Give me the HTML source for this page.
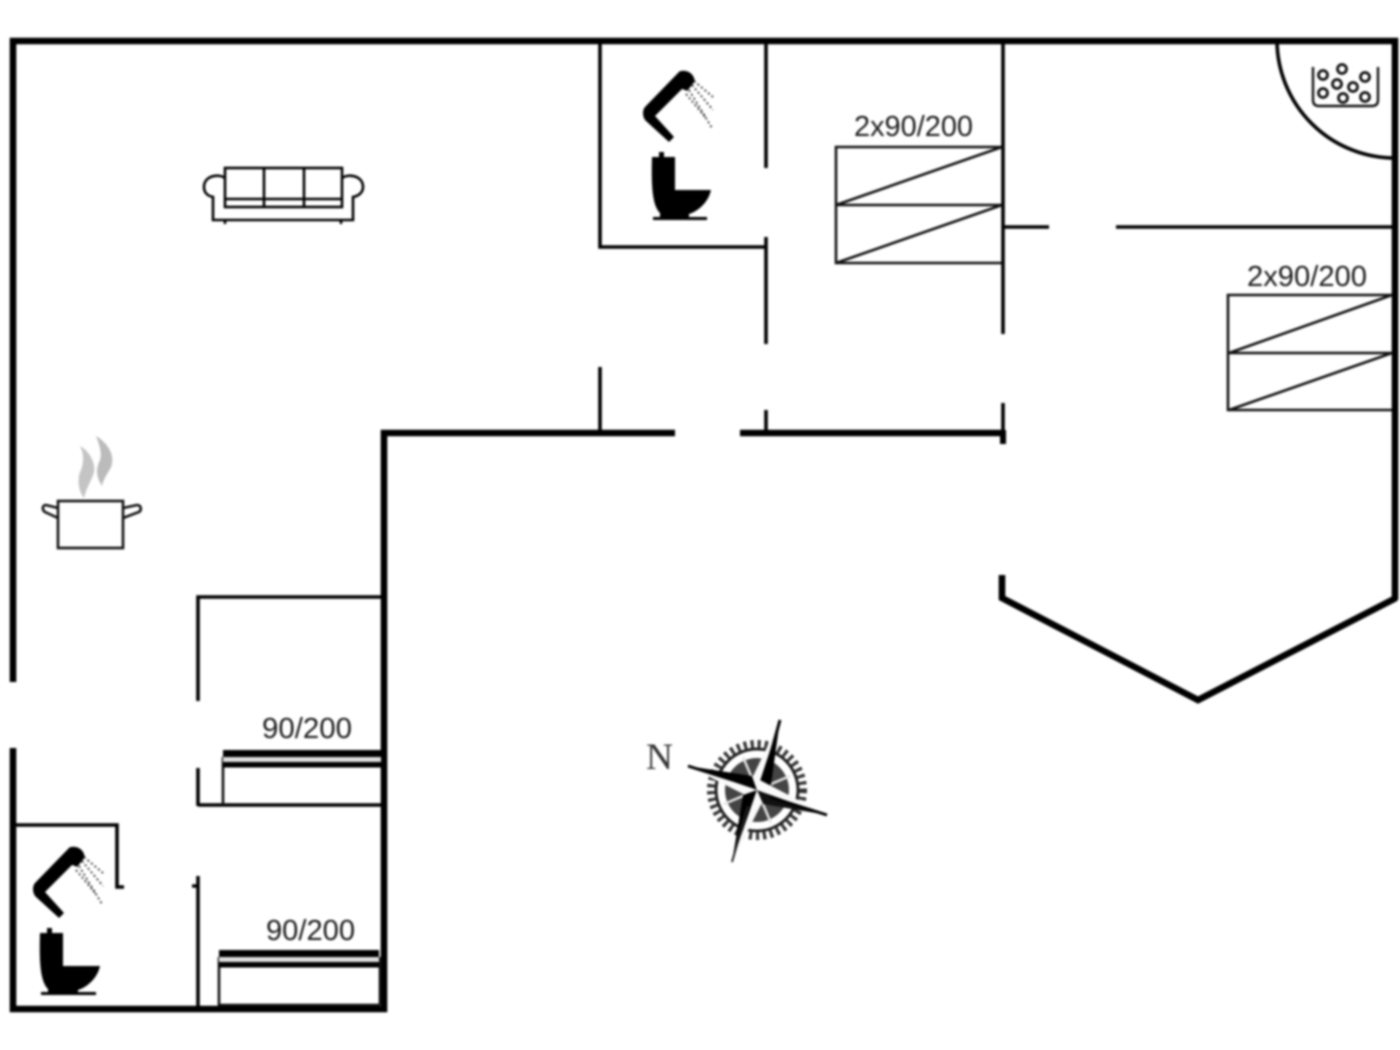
<!DOCTYPE html>
<html>
<head>
<meta charset="utf-8">
<style>
html,body{margin:0;padding:0;background:#fff;width:1400px;height:1050px;overflow:hidden}
svg{display:block;filter:blur(1px)}
text{font-family:"Liberation Sans",sans-serif;font-size:28.5px;fill:#1c1c1c}
</style>
</head>
<body>
<svg width="1400" height="1050" viewBox="0 0 1400 1050" xmlns="http://www.w3.org/2000/svg">
<rect width="1400" height="1050" fill="#fff"/>
<!-- thick walls -->
<g fill="none" stroke="#000" stroke-width="6.6">
<path d="M13 682V41H1395V600"/>
<path d="M13 748V1009H384V433H675"/>
<path d="M740 433H1003"/>
<path d="M1002 575V598L1198 700L1396 598" stroke-linejoin="miter"/>
</g>
<rect x="1000" y="430" width="6" height="14" fill="#000"/>
<!-- thin walls -->
<g fill="none" stroke="#000" stroke-width="3.6">
<path d="M600 41V247H766"/>
<path d="M766 41V168M766 237V344M766 410V433"/>
<path d="M600 367V433"/>
<path d="M1003 41V334M1003 403V433"/>
<path d="M1003 227H1049M1116 227H1395"/>
<path d="M198 701V597H384"/>
<path d="M198 768V806M198 805H384"/>
<path d="M198 876V1009M192 886H198"/>
<path d="M13 825H117V887H124"/>
<path d="M1277 41A118 118 0 0 0 1395 158"/>
</g>
<!-- beds -->
<g fill="none" stroke="#111" stroke-width="2.6">
<path d="M1002 147H836V263H1002M836 205H1002M836 205L1002 147M836 263L1002 205"/>
<path d="M1392 295H1228V410H1392M1229 353H1392M1229 353L1392 295M1229 410L1392 353"/>
<path d="M223 757V805"/>
<path d="M219 957V1005H380"/>
<path d="M380 957V1005"/>
</g>
<g fill="#000">
<rect x="223" y="750" width="158" height="7"/>
<rect x="223" y="762" width="158" height="5.5"/>
<rect x="219" y="950" width="160" height="7"/>
<rect x="219" y="962" width="160" height="5.5"/>
</g>
<rect x="223" y="757" width="158" height="5" fill="#ddd"/>
<rect x="219" y="957" width="160" height="5" fill="#ddd"/>
<!-- labels -->
<text x="854" y="136" textLength="119" lengthAdjust="spacingAndGlyphs">2x90/200</text>
<text x="1247" y="286" textLength="120" lengthAdjust="spacingAndGlyphs">2x90/200</text>
<text x="262" y="738" textLength="90" lengthAdjust="spacingAndGlyphs">90/200</text>
<text x="266" y="940" textLength="89" lengthAdjust="spacingAndGlyphs">90/200</text>
<text x="646" y="769" textLength="27" lengthAdjust="spacingAndGlyphs" style="font-family:'Liberation Serif',serif;font-size:37px;fill:#333">N</text>
<!-- sofa -->
<g fill="none" stroke="#000" stroke-width="2.6">
<rect x="225" y="168" width="117" height="39"/>
<path d="M264 168V207M304 168V207M225 199H342"/>
<path d="M225 178C218 173 204 176 204 187C204 193 208 196 213 197V220H353V197C358 196 363 193 363 187C363 176 349 173 342 178"/>
<path d="M225 220V224M341 220V224"/>
</g>
<!-- shower 1 -->
<path d="M680 72C687 70 693 74 694 81L687 90L682 88L654 116L673 137L669 141L646 120C643 116 643 110 646 107Z" fill="#000" stroke="#000" stroke-width="1.5" stroke-linejoin="round"/>
<g fill="none" stroke="#333" stroke-width="1.8" stroke-dasharray="2 2.6">
<path d="M694 81L713 97M692 85L713 110M689 90L712 128M686 94L706 118"/>
</g>
<path d="M652 157H675V190H711C708 204 696 212 689 214V218H660V213C653 206 651 190 652 157Z" fill="#000"/>
<rect x="659" y="152" width="5" height="6" fill="#000"/>
<rect x="653" y="217" width="54" height="3" fill="#000"/>
<!-- shower 2 -->
<path d="M70 848C77 846 83 850 84 857L77 866L72 864L44 892L63 913L59 917L36 896C33 892 33 886 36 883Z" fill="#000" stroke="#000" stroke-width="1.5" stroke-linejoin="round"/>
<g fill="none" stroke="#333" stroke-width="1.8" stroke-dasharray="2 2.6">
<path d="M84 857L103 873M82 861L103 886M79 866L102 904M76 870L96 894"/>
</g>
<path d="M40 933H63V966H100C97 980 85 988 78 990V994H48V989C41 982 39 966 40 933Z" fill="#000"/>
<rect x="47" y="928" width="5" height="6" fill="#000"/>
<rect x="41" y="992" width="55" height="3" fill="#000"/>
<!-- tub -->
<g fill="none" stroke="#111" stroke-width="2.4">
<path d="M1313 67V100Q1313 106 1319 106H1372Q1378 106 1378 100V67"/>
<g stroke-width="2.8">
<circle cx="1323" cy="75" r="4.5"/><circle cx="1342" cy="69" r="4.5"/><circle cx="1365" cy="77" r="4.5"/>
<circle cx="1337" cy="84" r="4.5"/><circle cx="1353" cy="87" r="4.5"/><circle cx="1323" cy="93" r="4.5"/>
<circle cx="1343" cy="98" r="4.5"/><circle cx="1365" cy="97" r="4.5"/>
</g>
</g>
<!-- pot -->
<path d="M96 436C106 442 114 452 112 464C111 470 104 476 102 486C97 478 95 470 100 460C102 454 100 446 96 436Z" fill="#bbb"/>
<path d="M80 446C88 450 96 462 94 472C92 480 86 488 84 498C78 490 77 478 81 470C84 462 84 454 80 446Z" fill="#c4c4c4"/>
<g fill="none" stroke="#111" stroke-width="2.6">
<rect x="58" y="501" width="65" height="47"/>
<path d="M58 508L46 505C42 505 42 510 45 512L58 518M123 508L137 505C141 505 142 510 139 512L123 518"/>
</g>
<!-- compass -->
<g>
<circle cx="757" cy="790" r="46" fill="none" stroke="#333" stroke-width="8" stroke-dasharray="3.2 3.8"/>
<circle cx="757" cy="790" r="41" fill="none" stroke="#222" stroke-width="3"/>
<circle cx="757" cy="790" r="32" fill="#444"/>
<circle cx="757" cy="790" r="36" fill="none" stroke="#fff" stroke-width="6"/>
<g stroke="#e5e5e5" stroke-width="2.5">
<path d="M743 757L771 823M790 776L724 804"/>
</g>
<path d="M780 720L757 790L771 785Z" fill="#000"/>
<path d="M780 720L757 790L744 795Z" fill="#fafafa"/>
<path d="M688 766L757 790L752 776Z" fill="#000"/>
<path d="M688 766L757 790L763 804Z" fill="#fafafa"/>
<path d="M732 862L757 790L743 795Z" fill="#000"/>
<path d="M732 862L757 790L771 785Z" fill="#fafafa"/>
<path d="M827 815L757 790L763 804Z" fill="#111"/>
<path d="M827 815L757 790L752 776Z" fill="#fafafa"/>
<path d="M827 815L770 797" stroke="#000" stroke-width="3" fill="none"/>
<path d="M688 766L745 784" stroke="#000" stroke-width="3" fill="none"/>
<path d="M780 720L765 775" stroke="#000" stroke-width="3" fill="none"/>
<path d="M732 862L748 806" stroke="#222" stroke-width="2" fill="none"/>
</g>
</svg>
</body>
</html>
